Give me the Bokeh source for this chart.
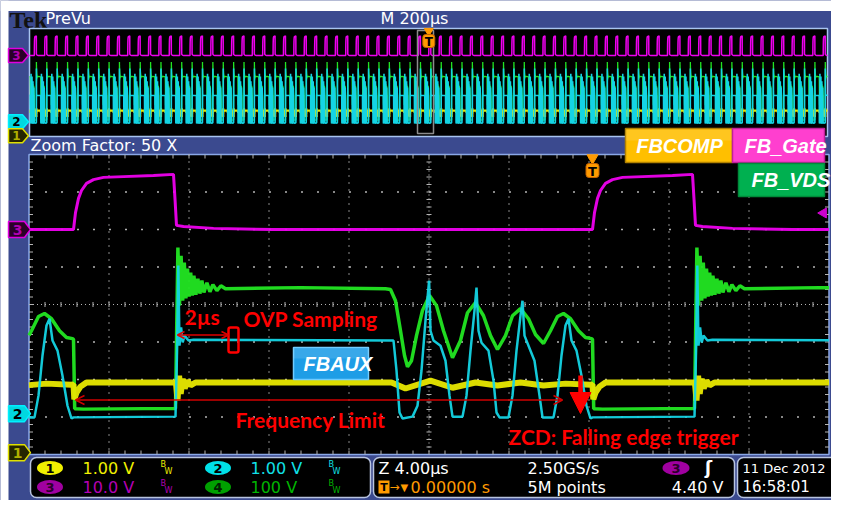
import numpy as np
from bokeh.plotting import figure
from bokeh.models import Range1d, Arrow, OpenHead, NormalHead
from bokeh.core.properties import value
from bokeh.embed import file_html
from bokeh.resources import INLINE

# ---------------- data ----------------
PERIOD_US = 25.95          # switching period
FIRST_TURN_ON_US = 2.225   # first gate turn-on, from left edge of zoom window
MAIN_SPAN_US = 40.0        # 10 div x 4 us
CH_SCALE = {1: 1.0, 2: 1.0, 3: 10.0, 4: 100.0}       # V/div
CH_OFFSET = {1: -3.95, 2: -2.91, 3: 2.0, 4: -2.83}   # ground level, div
TRIG_LEVEL_V = 4.40

# one switching cycle, time in us after gate turn-on, values in volts
gate_t = [0.0, 0.1, 0.25, 0.4, 0.65, 1.0, 1.5, 2.5, 4.0, 5.0, 5.08, 5.15, 5.5, 7.0, 10.0, 25.9]
gate_v = [0.0, 4.5, 8.3, 10.4, 12.3, 13.3, 13.9, 14.1, 14.4, 14.7, 7.7, 1.1, 0.8, 0.3, 0.0, 0.0]

vds_t = [0.0, 0.06, 0.5, 5.05, 5.1, 5.22, 5.3, 5.38, 5.46, 5.54, 5.62, 5.7, 5.78, 5.86, 5.94,
         6.02, 6.12, 6.22, 6.32, 6.42, 6.52, 6.67, 6.82, 6.97, 7.17, 7.37, 7.6, 11.35, 15.6,
         15.85, 16.1, 16.35, 16.55, 16.7, 16.9, 17.15, 17.45, 17.8, 18.15, 18.5, 18.95, 19.35,
         19.7, 20.1, 20.5, 20.85, 21.2, 21.6, 21.95, 22.35, 22.75, 23.1, 23.5, 23.85, 24.2,
         24.5, 24.85, 25.25, 25.6, 25.9]
vds_v = [190, 5, 4, 6, 6, 435, 280, 413, 293, 395, 299, 379, 304, 368, 307,
         360, 309, 352, 312, 347, 315, 341, 317, 336, 320, 333, 325, 328, 325,
         323, 293, 213, 147, 117, 133, 200, 267, 307, 280, 213, 141, 187,
         261, 288, 253, 200, 163, 200, 253, 272, 245, 203, 179, 213, 251,
         259, 245, 213, 195, 192]

aux_t = [0.0, 5.1, 5.17, 5.24, 5.3, 5.38, 5.46, 5.55, 5.75, 6.0, 16.0, 16.15, 16.3, 16.45,
         16.95, 17.2, 17.4, 17.6, 17.78, 17.85, 18.0, 18.35, 18.6, 18.8, 18.95, 19.45, 19.65,
         19.85, 20.05, 20.15, 20.25, 20.4, 20.75, 21.0, 21.15, 21.3, 21.75, 21.95, 22.15,
         22.35, 22.45, 22.55, 22.75, 23.05, 23.3, 23.45, 24.0, 24.2, 24.4, 24.6, 24.75, 24.9,
         25.15, 25.4, 25.65, 25.85]
aux_v = [-0.1, -0.08, 1.5, 3.95, 1.81, 2.3, 1.9, 2.08, 1.95, 1.97, 1.95, 1.15, 0.03, -0.13,
         -0.08, 0.21, 1.15, 2.48, 3.55, 2.21, 1.95, 1.81, 1.41, 0.48, -0.08, -0.08, 0.48,
         1.68, 2.75, 3.36, 2.21, 1.89, 1.68, 0.88, 0.03, -0.1, -0.1, 0.48, 1.68,
         2.61, 3.01, 2.08, 1.81, 1.41, 0.48, -0.1, -0.1, 0.48, 1.55, 2.35, 2.53, 1.95,
         1.68, 1.01, 0.21, -0.13]

comp_t = [0.0, 0.04, 0.15, 0.35, 0.65, 5.12, 5.2, 5.28, 5.36, 5.46, 5.56, 5.7, 5.85, 6.1,
          15.9, 16.6, 17.85, 18.95, 20.1, 21.2, 22.35, 23.5, 24.6, 25.85]
comp_v = [1.82, 1.42, 1.6, 1.76, 1.87, 1.87, 1.39, 2.05, 1.57, 1.97, 1.71, 1.92, 1.79, 1.87,
          1.87, 1.71, 1.92, 1.73, 1.87, 1.79, 1.87, 1.79, 1.84, 1.81]

# ---------------- layout ----------------
BLUE = "#3b4a8f"
X0, X1, Y0, Y1 = 0, 831, 0, 500
MX0, MPX = 28.5, 20.0      # main screen: left edge px, px per us
MY0, MPY = 304.0, 37.5     # main screen: centre px, px per div
PX0, PUS = 417.0, 2.5      # preview: px of zoom start, us per px
PY0, PPY = 82.0, 13.5      # preview: centre px, px per div

p = figure(width=X1 - X0, height=Y1 - Y0, x_range=Range1d(X0, X1), y_range=Range1d(Y1, Y0),
           x_axis_type=None, y_axis_type=None, toolbar_location=None, output_backend="svg",
           min_border=0, background_fill_color=BLUE, border_fill_color=BLUE,
           outline_line_color=None)
p.extra_x_ranges = {"main": Range1d((X0 - MX0) / MPX, (X1 - MX0) / MPX),
                    "prev": Range1d((X0 - PX0) * PUS, (X1 - PX0) * PUS)}
p.extra_y_ranges = {"main": Range1d((MY0 - Y1) / MPY, (MY0 - Y0) / MPY),
                    "prev": Range1d((PY0 - Y1) / PPY, (PY0 - Y0) / PPY)}


def txt(x, y, s, color, size, font="DejaVu Sans", style="normal", align="left", **kw):
    p.text(x=[x], y=[y], text=[s], text_color=color, text_font=value(font),
           text_font_size=f"{size}px", text_font_style=style, text_align=align,
           text_baseline="middle", **kw)


def place(tc, vc, lo, hi):
    tc = np.asarray(tc, float)
    vc = np.asarray(vc, float)
    k0 = int(np.floor((lo - FIRST_TURN_ON_US) / PERIOD_US)) - 1
    k1 = int(np.ceil((hi - FIRST_TURN_ON_US) / PERIOD_US)) + 1
    starts = FIRST_TURN_ON_US + PERIOD_US * np.arange(k0, k1 + 1)
    t = np.concatenate([tc + s for s in starts])
    v = np.tile(vc, len(starts))
    m = (t > lo) & (t < hi)
    tt = np.concatenate([[lo], t[m], [hi]])
    vv = np.concatenate([[np.interp(lo, t, v)], v[m], [np.interp(hi, t, v)]])
    return tt, vv


# white margin strips of the original capture
p.quad(left=X0, right=X1, top=Y0, bottom=10.5, fill_color="white", line_color=None)
p.quad(left=X0, right=8, top=Y0, bottom=Y1, fill_color="white", line_color=None)

# header
txt(9, 19.5, "Tek", "#111111", 24, font="Liberation Serif", style="bold")
txt(45, 18, "PreVu", "white", 16)
txt(380, 18, "M 200µs", "white", 16)
txt(30, 145, "Zoom Factor: 50 X", "white", 16)

# preview screen
p.quad(left=29, right=827, top=28, bottom=136, fill_color="black", line_color="#a8c4f0", line_width=1.5)
# main screen
p.quad(left=MX0, right=MX0 + 800, top=MY0 - 150, bottom=MY0 + 150, fill_color="black",
       line_color="#8aa8e8", line_width=1.5)

# graticule
GRID = "#b4b4b4"
gx = MX0 + 80 * np.array([1, 2, 3, 4, 6, 7, 8, 9])
p.segment(x0=gx, x1=gx, y0=MY0 - 150, y1=MY0 + 150, line_color=GRID, line_dash="1 6", line_width=1.5)
gy = MY0 + MPY * np.array([-3, -2, -1, 1, 2, 3])
p.segment(x0=MX0, x1=MX0 + 800, y0=gy, y1=gy, line_color=GRID, line_dash="2 14", line_width=1.5)
p.segment(x0=[MX0], x1=[MX0 + 800], y0=[MY0], y1=[MY0], line_color=GRID, line_dash="1 3", line_width=1.2)
p.segment(x0=[MX0 + 400], x1=[MX0 + 400], y0=[MY0 - 150], y1=[MY0 + 150], line_color=GRID,
          line_dash="1 3", line_width=1.2)
hx = MX0 + 16 * np.arange(1, 50)
p.segment(x0=hx, x1=hx, y0=MY0 - 2.5, y1=MY0 + 2.5, line_color=GRID)
p.segment(x0=hx, x1=hx, y0=MY0 - 150, y1=MY0 - 146, line_color=GRID)
p.segment(x0=hx, x1=hx, y0=MY0 + 150, y1=MY0 + 146, line_color=GRID)
vy = MY0 - 150 + 7.5 * np.arange(1, 40)
p.segment(x0=MX0 + 397.5, x1=MX0 + 402.5, y0=vy, y1=vy, line_color=GRID)
p.segment(x0=MX0, x1=MX0 + 4, y0=vy, y1=vy, line_color=GRID)
p.segment(x0=MX0 + 800, x1=MX0 + 796, y0=vy, y1=vy, line_color=GRID)

# traces
channels = [(3, gate_t, gate_v, "#ee00ee", 3.0, 1.5),
            (4, vds_t, vds_v, "#22e622", 3.5, 1.3),
            (1, comp_t, comp_v, "#e8e800", 6.0, 2.2),
            (2, aux_t, aux_v, "#14d4e4", 2.5, 1.6)]
for ch, tc, vc, col, wm, wp in channels:
    t, v = place(tc, vc, (29 - PX0) * PUS, (827 - PX0) * PUS)
    p.line(t, v / CH_SCALE[ch] + CH_OFFSET[ch], line_color=col, line_width=wp,
           x_range_name="prev", y_range_name="prev")
for ch, tc, vc, col, wm, wp in channels:
    t, v = place(tc, vc, 0.0, MAIN_SPAN_US)
    p.line(t, v / CH_SCALE[ch] + CH_OFFSET[ch], line_color=col, line_width=wm, line_alpha=0.95,
           x_range_name="main", y_range_name="main")

# zoom box in preview
p.quad(left=[0.0], right=[MAIN_SPAN_US], top=30, bottom=133, fill_color=None,
       line_color="#8c8c8c", line_width=1.5, x_range_name="prev")

# trigger markers
t_trig = FIRST_TURN_ON_US + PERIOD_US
ORANGE = "#ff9a00"
p.scatter(x=[t_trig], y=[157.5], marker="inverted_triangle", size=11, fill_color=ORANGE,
          line_color=ORANGE, x_range_name="main")
p.rect(x=[t_trig], y=[170], width=13 / MPX, height=14, fill_color=ORANGE, line_color="#c06000",
       x_range_name="main", border_radius=3)
txt(t_trig, 170.5, "T", "black", 13, style="bold", align="center", x_range_name="main")
p.scatter(x=[t_trig], y=[30.5], marker="inverted_triangle", size=9, fill_color=ORANGE,
          line_color=ORANGE, x_range_name="prev")
p.rect(x=[t_trig], y=[40.5], width=12 * PUS, height=13, fill_color=ORANGE, line_color="#c06000",
       x_range_name="prev", border_radius=3)
txt(t_trig, 41, "T", "black", 12, style="bold", align="center", x_range_name="prev")
p.scatter(x=[823], y=[CH_OFFSET[3] + TRIG_LEVEL_V / CH_SCALE[3]], marker="triangle", angle=np.pi / 2,
          size=10, fill_color="#cc00cc", line_color="#cc00cc", y_range_name="main")


# channel tags
def tag(ch, fill, line, tcol, yname, ppy, hpx, tip):
    yc = CH_OFFSET[ch]
    h = hpx / 2 / ppy
    xs = [8, tip - 6, tip, tip - 6, 8]
    ys = [yc + h, yc + h, yc, yc - h, yc - h]
    p.patch(xs, ys, fill_color=fill, line_color=line, line_width=1.5, y_range_name=yname)
    txt((8 + tip - 6) / 2 + 1, yc, str(ch), tcol, hpx - 2, style="bold", align="center",
        y_range_name=yname)


for yname, ppy, hpx, tip in [("main", MPY, 16, 30), ("prev", PPY, 14, 28)]:
    tag(3, "#2a0028", "#e000e0", "#b000b0", yname, ppy, hpx, tip)
    tag(2, "#00d8e0", "#00f0ff", "black", yname, ppy, hpx, tip)
    tag(1, "#262600", "#e0e000", "#b0b000", yname, ppy, hpx, tip)

# legend boxes
p.quad(left=625, right=732, top=128, bottom=162, fill_color="#ffbf00", line_color="#b08000", line_width=1.5)
p.quad(left=625, right=732, top=129, bottom=140, fill_color="white", fill_alpha=0.12, line_color=None)
p.quad(left=732, right=824, top=128, bottom=162, fill_color="#ff3fcf", line_color="#c0209a", line_width=1.5)
p.quad(left=738, right=824, top=163, bottom=196, fill_color="#00b050", line_color="#008a3a", line_width=1.5)
p.quad(left=293, right=368, top=347, bottom=379, fill_color="#1e9de6", line_color="#70ccff", line_width=1.5)
p.quad(left=293, right=368, top=348, bottom=358, fill_color="white", fill_alpha=0.12, line_color=None)
LF = "Liberation Sans"
txt(679, 145, "FBCOMP", "white", 20, font=LF, style="bold italic", align="center")
txt(744, 145, "FB_Gate", "white", 20, font=LF, style="bold italic")
txt(751, 179, "FB_VDS", "white", 20, font=LF, style="bold italic")
txt(303, 363, "FBAUX", "white", 20, font=LF, style="bold italic")

# red annotations
RED = "#ff0000"
AF = "Lato"
txt(184, 316, "2µs", RED, 21, font=AF, style="bold")
txt(243, 318, "OVP Sampling", RED, 21, font=AF, style="bold")
txt(235, 419, "Frequency Limit", RED, 21, font=AF, style="bold")
txt(508, 436, "ZCD: Falling edge trigger", RED, 21, font=AF, style="bold")
p.quad(left=228, right=238, top=327, bottom=352, fill_color=None, line_color=RED, line_width=2.5, border_radius=2)
p.add_layout(Arrow(start=OpenHead(size=7, line_color="#e00000", line_width=1.5),
                   end=OpenHead(size=7, line_color="#e00000", line_width=1.5),
                   x_start=177, y_start=334.5, x_end=228, y_end=334.5,
                   line_color="#e00000", line_width=1.5))
p.add_layout(Arrow(start=OpenHead(size=9, line_color="#d00000", line_width=1.5),
                   end=OpenHead(size=9, line_color="#d00000", line_width=1.5),
                   x_start=75, y_start=399.5, x_end=562, y_end=399.5,
                   line_color="#d00000", line_width=1.5))
p.add_layout(Arrow(end=NormalHead(size=21, fill_color=RED, line_color=RED),
                   x_start=580, y_start=375, x_end=580, y_end=413,
                   line_color=RED, line_width=4.5))

# status bar
SB = "#b8c4e0"
p.quad(left=30, right=370, top=457, bottom=497, fill_color="black", line_color=SB, line_width=1.5, border_radius=6)
p.quad(left=373, right=734, top=457, bottom=497, fill_color="black", line_color=SB, line_width=1.5, border_radius=6)
p.quad(left=737, right=860, top=457, bottom=497, fill_color="black", line_color=SB, line_width=1.5, border_radius=6)
R1, R2 = 467.5, 486.5
status = [(49.5, R1, "1", "#f0f000", "black", 82, "1.00 V", "#f0f000"),
          (217.5, R1, "2", "#00e0e8", "black", 250, "1.00 V", "#10e0e8"),
          (49.5, R2, "3", "#a000a0", "#2a002a", 82, "10.0 V", "#b400b4"),
          (217.5, R2, "4", "#00a000", "#002000", 250, "100 V", "#00b400")]
for cx, cy, num, pill, ncol, tx, label, lcol in status:
    p.ellipse(x=[cx], y=[cy], width=26, height=14, fill_color=pill, line_color=None)
    txt(cx, cy + 0.5, num, ncol, 13, style="bold", align="center")
    txt(tx, cy, label, lcol, 16)
    txt(tx + 78, cy - 3.5, "B", lcol, 8)
    txt(tx + 82, cy + 3.5, "W", lcol, 8)

txt(378, R1, "Z 4.00µs", "white", 16)
p.quad(left=378, right=389, top=480, bottom=493, fill_color=ORANGE, line_color=None)
txt(383.5, R2 + 0.5, "T", "black", 11, style="bold", align="center")
txt(389, R2, "→", ORANGE, 12)
txt(400, R2, "▼", ORANGE, 10)
txt(410, R2, "0.00000 s", ORANGE, 16)
txt(527, R1, "2.50GS/s", "white", 16)
txt(527, R2, "5M points", "white", 16)
p.ellipse(x=[675.5], y=[R1], width=27, height=14, fill_color="#a000a0", line_color=None)
txt(675.5, R1 + 0.5, "3", "#2a002a", 13, style="bold", align="center")
txt(708, R1, "ʃ", "white", 17, style="bold", align="center")
txt(723, R2, "4.40 V", "white", 16, align="right")
txt(742, R1, "11 Dec 2012", "white", 13)
txt(742, R2, "16:58:01", "white", 15)

open("out.html", "w").write(file_html(p, INLINE))
